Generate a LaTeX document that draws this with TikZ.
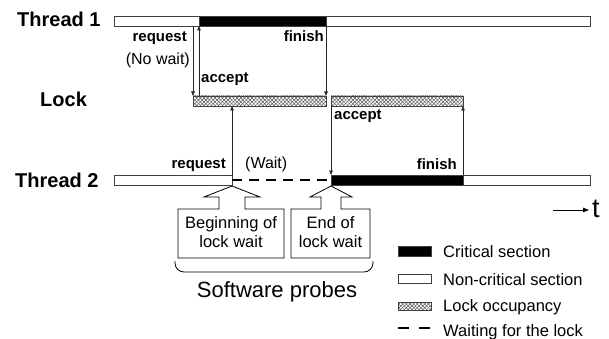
\documentclass[tikz,border=0pt]{standalone}
\usepackage{fontspec}
\setmainfont{Liberation Sans}
\usetikzlibrary{arrows.meta,patterns.meta}
\tikzset{
  bar/.style={draw=black!75, line width=0.8pt},
  critbar/.style={bar, fill=black},
  freebar/.style={bar, fill=white},
  hatchA/.style={pattern={Lines[angle=45,distance=2.6pt,line width=0.5pt]}, pattern color=black!65},
  hatchB/.style={pattern={Lines[angle=-45,distance=2.6pt,line width=0.5pt]}, pattern color=black!65},
  sig/.style={draw=black!85, line width=0.6pt, -{Triangle[length=4.5pt,width=3.6pt]}},
  waitline/.style={line width=2.6pt, dash pattern=on 10pt off 7pt},
  rowlbl/.style={font=\fontsize{20}{24}\selectfont\bfseries, inner sep=0pt, anchor=base west},
  evlbl/.style={font=\fontsize{15}{18}\selectfont\bfseries, inner sep=0pt},
  notelbl/.style={font=\fontsize{16}{19}\selectfont, inner sep=0pt},
  boxtxt/.style={font=\fontsize{16.5}{18.5}\selectfont, inner sep=0pt, align=center, anchor=base},
  legtxt/.style={font=\fontsize{16.5}{20}\selectfont, inner sep=0pt, anchor=base west},
  callout/.style={draw=black, line width=0.8pt, fill=white, line join=miter},
  bracket/.style={draw=black, line width=0.8pt, rounded corners=9pt}
}
\newcommand\lockbar[2]{%
  \fill[white] #1 rectangle #2;
  \path[hatchA] #1 rectangle #2;
  \path[hatchB] #1 rectangle #2;
  \draw[bar] #1 rectangle #2;}
\begin{document}
\begin{tikzpicture}[x=1pt,y=-1pt]
\useasboundingbox (0,0) rectangle (609,339);

% row labels
\node[rowlbl] (lt1) at (17,27) {Thread 1};
\node[rowlbl] (llk) at (40,107) {Lock};
\node[rowlbl] (lt2) at (15,187) {Thread 2};

% Thread 1 bar
\draw[freebar] (114,16) rectangle (590,26);
\draw[critbar] (199,16) rectangle (326,26);

% Lock bars
\lockbar{(193,96)}{(326,106)}
\lockbar{(331,96)}{(463,106)}

% Thread 2 bar
\draw[freebar] (114,175) rectangle (232,185);
\draw[waitline] (232,180) -- (331,180);
\draw[critbar] (331,175) rectangle (463,185);
\draw[freebar] (463,175) rectangle (590,185);

% connector end points
\coordinate (a1s) at (193,26);  \coordinate (a1e) at (193,96);
\coordinate (a2s) at (199,96);  \coordinate (a2e) at (199,26);
\coordinate (a3s) at (326,26);  \coordinate (a3e) at (326,96);
\coordinate (b1s) at (232,175); \coordinate (b1e) at (232,106);
\coordinate (b2s) at (331,106); \coordinate (b2e) at (331,175);
\coordinate (b3s) at (463,175); \coordinate (b3e) at (463,106);

\draw[sig] (a1s) -- (a1e);
\draw[sig] (a2s) -- (a2e);
\draw[sig] (a3s) -- (a3e);
\draw[sig] (b1s) -- (b1e);
\draw[sig] (b2s) -- (b2e);
\draw[sig] (b3s) -- (b3e);

% event labels
\node[evlbl, anchor=base east] (req1) at (187,42) {request};
\node[notelbl, anchor=base east] (nw) at (190,65) {(No wait)};
\node[evlbl, anchor=base west] (acc1) at (201,83) {accept};
\node[evlbl, anchor=base east] (fin1) at (324,42) {finish};
\node[evlbl, anchor=base east] (req2) at (226,168) {request};
\node[notelbl, anchor=base west] (wt) at (245,168) {(Wait)};
\node[evlbl, anchor=base west] (acc2) at (334,120) {accept};
\node[evlbl, anchor=base east] (fin2) at (457,169) {finish};

% probe callouts
\draw[callout] (178,209) -- (219,209) -- (219,197) -- (204,197) -- (232,186)
  -- (260,197) -- (245,197) -- (245,209) -- (284,209) -- (284,258) -- (178,258) -- cycle;
\draw[callout] (291,209) -- (321,209) -- (321,197) -- (310,197) -- (331,186)
  -- (352,197) -- (341,197) -- (341,209) -- (370,209) -- (370,258) -- (291,258) -- cycle;
\node[boxtxt] (p1) at (231,247) {Beginning of\\lock wait};
\node[boxtxt] (p2) at (330.5,247) {End of\\lock wait};

% bracket
\draw[bracket] (175,261) -- (175,272) -- (373,272) -- (373,261);
\node[font=\fontsize{22}{26}\selectfont, inner sep=0pt, anchor=base] (sp) at (277,297) {Software probes};

% time arrow
\coordinate (ts) at (553,210);
\coordinate (te) at (589,210);
\node[font=\fontsize{27}{30}\selectfont, inner sep=0pt, anchor=base west] (tt) at (592,217) {t};
\draw[line width=1pt, -{Triangle[length=6pt,width=4.5pt]}] (ts) -- (te);

% legend
\draw[critbar] (398,246) rectangle (431,256);
\node[legtxt] (lg1) at (443,257) {Critical section};
\draw[freebar] (398,274) rectangle (431,283);
\node[legtxt] (lg2) at (443,285) {Non-critical section};
\lockbar{(398,302)}{(431,310)}
\node[legtxt] (lg3) at (443,311) {Lock occupancy};
\coordinate (lds) at (398,328); \coordinate (lde) at (430,328);
\draw[line width=2.6pt, dash pattern=on 11pt off 10pt] (lds) -- (lde);
\node[legtxt] (lg4) at (443,336) {Waiting for the lock};
\end{tikzpicture}
\end{document}
